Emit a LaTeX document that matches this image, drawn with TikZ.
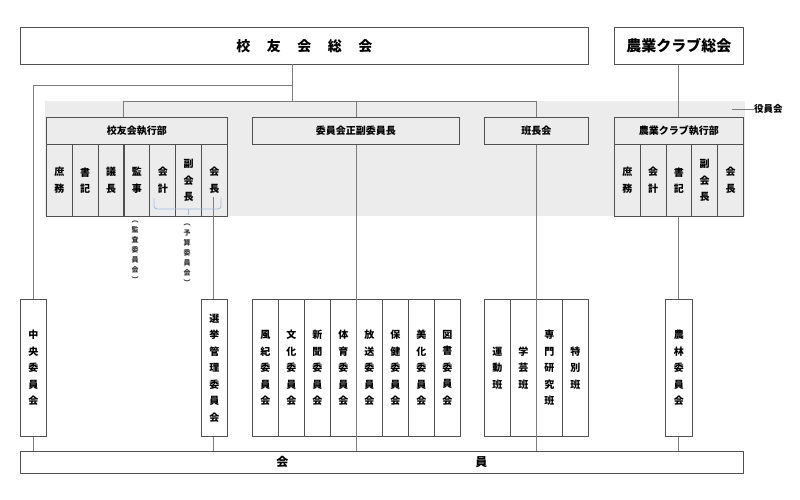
\documentclass[tikz,border=0pt]{standalone}
\usepackage{fontspec}
\newfontfamily\jp{Noto Sans CJK JP}
\definecolor{bandc}{RGB}{236,236,236}
\definecolor{linec}{RGB}{125,125,125}
\definecolor{boxc}{RGB}{80,80,80}
\definecolor{brk}{RGB}{165,188,222}
\tikzset{
  box/.style={draw=boxc, line width=0.8pt, anchor=north west, inner sep=0pt, align=center,
              font=\jp\bfseries\fontsize{10}{16.5}\selectfont},
  inband/.style={box, fill=bandc},
  lowbox/.style={box, fill=white},
  conn/.style={draw=linec, line width=0.9pt},
  small/.style={inner sep=0pt, align=center, font=\jp\bfseries\fontsize{7}{10}\selectfont, text=black!80},
}
\begin{document}
\begin{tikzpicture}[x=1pt,y=-1pt]
\useasboundingbox (0,0) rectangle (800,500);
\fill[white] (0,0) rectangle (800,500);
% band
\fill[bandc] (45,101) rectangle (745,216);

% top boxes
\node[lowbox, minimum width=568pt, minimum height=37pt, font=\jp\bfseries\fontsize{14}{16}\selectfont] (soukai) at (20,27)
  {校\hspace{16.5pt}友\hspace{16.5pt}会\hspace{16.5pt}総\hspace{16.5pt}会};
\node[lowbox, minimum width=129pt, minimum height=37pt, font=\jp\bfseries\fontsize{15}{17}\selectfont] (nsoukai) at (614,27) {農業クラブ総会};

% coordinates for connectors
\coordinate (a0) at (292,64);
\coordinate (a1) at (292,85);
\coordinate (a2) at (292,101);
\coordinate (b0) at (33,85);
\coordinate (c0) at (123,101);
\coordinate (c1) at (356,101);
\coordinate (c2) at (536,101);
\coordinate (kc) at (213,197);

% header boxes
\node[inband, minimum width=181pt, minimum height=27pt] (kexec) at (46,117) {校友会執行部};
\node[inband, minimum width=207pt, minimum height=27pt] (iin) at (252,117) {委員会正副委員長};
\node[inband, minimum width=104pt, minimum height=27pt] (han) at (484,117) {班長会};
\node[inband, minimum width=129pt, minimum height=27pt] (nexec) at (614,117) {農業クラブ執行部};

% exec cells
\foreach [count=\i from 0] \t in {{庶\\務},{書\\記},{議\\長},{監\\事},{会\\計},{副\\会\\長},{会\\長}}
  \node[inband, minimum width=25.857pt, minimum height=72pt] (k\i) at (46+25.857*\i,144) {\t};
\foreach [count=\i from 0] \t in {{庶\\務},{会\\計},{書\\記},{副\\会\\長},{会\\長}}
  \node[inband, minimum width=25.8pt, minimum height=72pt] (n\i) at (614+25.8*\i,144) {\t};

% lower boxes
\node[lowbox, minimum width=26pt, minimum height=137pt] (chuo) at (20,299) {中\\央\\委\\員\\会};
\node[lowbox, minimum width=26pt, minimum height=137pt] (senkyo) at (201,299) {選\\挙\\管\\理\\委\\員\\会};
\foreach [count=\i from 0] \a/\b in {風/紀,文/化,新/聞,体/育,放/送,保/健,美/化,図/書}
  \node[lowbox, minimum width=26pt, minimum height=137pt] (iw\i) at (252+26*\i,299) {\a\\\b\\委\\員\\会};
\node[lowbox, minimum width=26pt, minimum height=137pt] (h0) at (484,299) {運\\動\\班};
\node[lowbox, minimum width=26pt, minimum height=137pt] (h1) at (510,299) {学\\芸\\班};
\node[lowbox, minimum width=26pt, minimum height=137pt] (h2) at (536,299) {専\\門\\研\\究\\班};
\node[lowbox, minimum width=26pt, minimum height=137pt] (h3) at (562,299) {特\\別\\班};
\node[lowbox, minimum width=27pt, minimum height=137pt] (nourin) at (665,299) {農\\林\\委\\員\\会};

% kaiin
\node[lowbox, minimum width=723pt, minimum height=22pt, font=\jp\bfseries\fontsize{12}{14}\selectfont] (kaiin) at (20,451) {会\hspace{187pt}員};

% connectors
\draw[conn] (a0) -- (a2);
\draw[conn] (a1) -- (b0) -- (chuo.north -| b0);
\draw[conn] (c0) -- (c2);
\draw[conn] (c0) -- (kexec.north -| c0);
\draw[conn] (c1) -- (iin.north -| c1);
\draw[conn] (c2) -- (han.north -| c2);
\draw[conn] (iin.south -| c1) -- (kaiin.north -| c1);
\draw[conn] (han.south -| c2) -- (kaiin.north -| c2);
\draw[conn] (chuo.south) -- (kaiin.north -| chuo.south);
\draw[conn] (kc) -- (senkyo.north -| kc);
\draw[conn] (senkyo.south -| kc) -- (kaiin.north -| kc);
\draw[conn] (nsoukai.south) -- (nexec.north -| nsoukai.south);
\draw[conn] (n2.south -| nsoukai.south) -- (nourin.north -| nsoukai.south);
\draw[conn] (nourin.south -| nsoukai.south) -- (kaiin.north -| nsoukai.south);
\draw[boxc, line width=1.1pt] (k3.north west) -- (k3.south west);

% bracket
\draw[brk, line width=0.8pt, rounded corners=3pt] (154,198) |- (221,209) -- (221,198);
\draw[brk, line width=0.8pt] (188,209) -- (188,215);

% small notes
\node[small] (kansa) at (135,252) {︵\\監\\査\\委\\員\\会\\︶};
\node[small] (yosan) at (187,255) {︵\\予\\算\\委\\員\\会\\︶};

% yakuin label
\coordinate (y0) at (732,109);
\node[font=\jp\bfseries\fontsize{9.5}{11}\selectfont, anchor=west, inner sep=0pt] (yakuin) at (754,109) {役員会};
\draw[conn, line width=0.7pt] (y0) -- (yakuin.west);
\end{tikzpicture}
\end{document}
